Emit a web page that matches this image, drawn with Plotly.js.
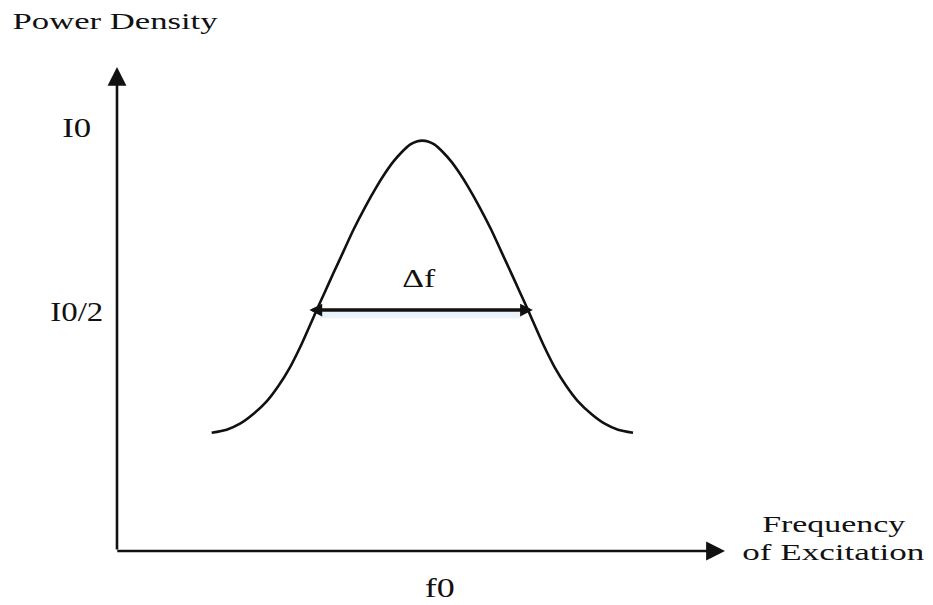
<!DOCTYPE html>
<html>
<head>
<meta charset="utf-8">
<script src="https://cdn.plot.ly/plotly-3.0.1.min.js"></script>
<style>
  html, body { margin: 0; padding: 0; background: #ffffff; }
  #chart { width: 933px; height: 605px; }
</style>
</head>
<body>
<div id="chart"></div>
<script>
// Spectral line profile: power density against excitation frequency (arbitrary units)
const freq  = [1.557, 1.804, 2.023, 2.242, 2.462, 2.654, 2.845, 3.037, 3.174, 3.284, 3.421,
               3.558, 3.723, 3.887, 4.079, 4.271, 4.408, 4.545, 4.682, 4.819, 4.929, 5.022,
               5.115, 5.225, 5.362, 5.499, 5.636, 5.773, 5.965, 6.157, 6.321, 6.486, 6.623,
               6.760, 6.870, 7.007, 7.199, 7.390, 7.582, 7.802, 8.021, 8.240, 8.487];
const power = [2.445, 2.507, 2.631, 2.831, 3.092, 3.409, 3.795, 4.277, 4.663, 4.979, 5.358,
               5.737, 6.185, 6.632, 7.101, 7.528, 7.803, 8.044, 8.238, 8.395, 8.461, 8.478,
               8.461, 8.395, 8.238, 8.044, 7.803, 7.528, 7.101, 6.632, 6.185, 5.737, 5.358,
               4.979, 4.663, 4.277, 3.795, 3.409, 3.092, 2.831, 2.631, 2.507, 2.445];

// Full width at half maximum
const halfLevel = 4.979;
const fwhmStart = 3.14;
const fwhmEnd   = 6.84;

// Axis extents
const freqMax  = 10;
const powerMax = 10;

// Labels
const yTickLabels = ['I0', 'I0/2'];
const xTickLabels = ['f0'];
const xAxisLabel  = ['Frequency', 'of Excitation'];
const yAxisLabel  = 'Power Density';
const widthLabel  = '\u0394f';

const serif = 'Liberation Serif, Times New Roman, serif';
const ink = '#111111';

function label(text, x, y, size, ref) {
  return {
    text: text, x: x, y: y,
    xref: ref || 'paper', yref: ref || 'paper',
    xanchor: 'center', yanchor: 'middle',
    showarrow: false,
    font: { family: serif, size: size, color: ink }
  };
}

const traces = [
  // soft halo under the width marker
  {
    x: [fwhmStart + 0.2, fwhmEnd - 0.2],
    y: [halfLevel - 0.1, halfLevel - 0.1],
    mode: 'lines',
    line: { color: 'rgba(175,205,238,0.28)', width: 7 },
    hoverinfo: 'skip'
  },
  {
    x: freq, y: power,
    mode: 'lines',
    line: { color: ink, width: 2.6, shape: 'spline', smoothing: 0.7 },
    hoverinfo: 'skip'
  }
];

const annotations = [
  // vertical axis arrow
  { x: 0, y: powerMax, ax: 0, ay: 0, xref: 'x', yref: 'y', axref: 'x', ayref: 'y',
    showarrow: true, arrowhead: 2, arrowsize: 1.45, arrowwidth: 2.6, arrowcolor: ink,
    standoff: 0, startstandoff: 0, text: '' },
  // horizontal axis arrow
  { x: freqMax, y: 0, ax: -0.02, ay: 0, xref: 'x', yref: 'y', axref: 'x', ayref: 'y',
    showarrow: true, arrowhead: 2, arrowsize: 1.45, arrowwidth: 2.6, arrowcolor: ink,
    standoff: 0, startstandoff: 0, text: '' },
  // width marker at half maximum
  { x: fwhmEnd, y: halfLevel, ax: fwhmStart, ay: halfLevel, xref: 'x', yref: 'y', axref: 'x', ayref: 'y',
    showarrow: true, arrowhead: 2, arrowside: 'end+start', arrowsize: 0.75, arrowwidth: 3.4,
    arrowcolor: ink, standoff: 0, startstandoff: 0, text: '' },

  label(yAxisLabel, -0.0025, 1.093, 23),
  label(yTickLabels[0], -0.0658, 0.876, 28),
  label(yTickLabels[1], -0.0666, 0.4948, 27),
  label(xTickLabels[0], 0.531, -0.0764, 28),
  label(xAxisLabel[0], 1.178, 0.0558, 24),
  label(xAxisLabel[1], 1.179, -0.0020, 24),
  label(widthLabel, 4.96, 5.62, 26, 'x')
];

// horizontal extent of each label's lettering
const labelWidths = {
  'Power Density': 205,
  'I0': 29,
  'I0/2': 53,
  'f0': 30,
  'Frequency': 143,
  'of Excitation': 182,
  '\u0394f': 33
};

const layout = {
  width: 933, height: 605,
  margin: { l: 117, r: 208, t: 67, b: 54, pad: 0 },
  paper_bgcolor: '#ffffff', plot_bgcolor: '#ffffff',
  showlegend: false,
  xaxis: { range: [0, freqMax], visible: false, fixedrange: true },
  yaxis: { range: [0, powerMax], visible: false, fixedrange: true },
  annotations: annotations
};

Plotly.newPlot('chart', traces, layout, { staticPlot: true, displayModeBar: false }).then(function (gd) {
  gd.querySelectorAll('text.annotation-text').forEach(function (t) {
    const w = labelWidths[t.textContent];
    if (w) {
      t.setAttribute('textLength', w);
      t.setAttribute('lengthAdjust', 'spacingAndGlyphs');
    }
  });
});
</script>
</body>
</html>
